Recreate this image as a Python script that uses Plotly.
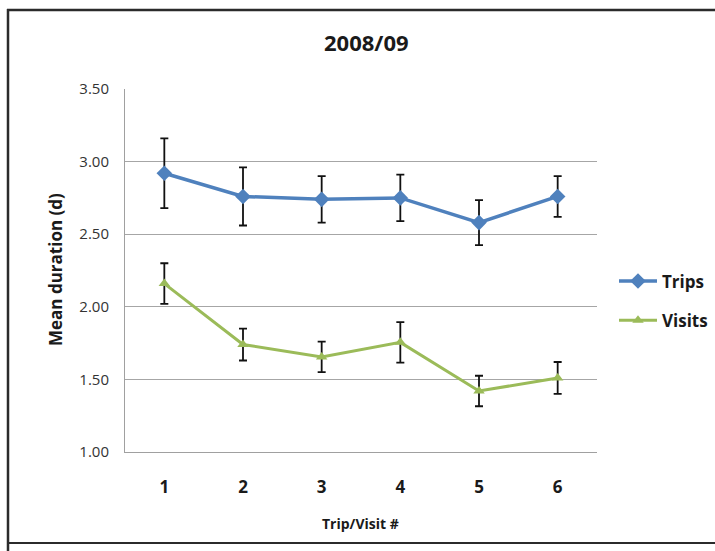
import plotly.graph_objects as go

# Trip/visit number on the x axis
trip_visit = [1, 2, 3, 4, 5, 6]
x_tick_labels = ["1", "2", "3", "4", "5", "6"]

# Mean duration in days and the half-length of each error bar
trips_mean = [2.92, 2.76, 2.74, 2.75, 2.58, 2.76]
trips_err = [0.24, 0.20, 0.16, 0.16, 0.155, 0.14]
visits_mean = [2.16, 1.74, 1.655, 1.755, 1.42, 1.51]
visits_err = [0.14, 0.11, 0.105, 0.14, 0.105, 0.11]

y_ticks = [1.0, 1.5, 2.0, 2.5, 3.0, 3.5]

W, H = 715, 551
L, R, T, B = 125, 118, 89, 99
PW, PH = W - L - R, H - T - B


def px_x(px):
    return (px - L) / PW


def px_y(py):
    return (H - B - py) / PH


FONT = "Open Sans"
TEXT = "#1a1a1a"

fig = go.Figure()

fig.add_trace(go.Scatter(
    x=trip_visit, y=trips_mean, name="Trips", mode="lines+markers",
    line=dict(color="#4F81BD", width=3.5),
    marker=dict(symbol="diamond", size=12, color="#4F81BD"),
    error_y=dict(type="data", array=trips_err, visible=True,
                 color="#111111", thickness=1.8, width=4),
    legendgroup="a",
))
fig.add_trace(go.Scatter(
    x=trip_visit, y=visits_mean, name="Visits", mode="lines+markers",
    line=dict(color="#9BBB59", width=3),
    marker=dict(symbol="triangle-up", size=10, color="#9BBB59"),
    error_y=dict(type="data", array=visits_err, visible=True,
                 color="#111111", thickness=1.8, width=4),
    legendgroup="b",
))

# Outer frame of the chart area
frame = dict(type="line", xref="paper", yref="paper",
             line=dict(color="#2b2b2b", width=2.5))
fig.add_shape(**frame, x0=px_x(7), x1=px_x(W + 5), y0=px_y(10), y1=px_y(10))
fig.add_shape(**frame, x0=px_x(8), x1=px_x(8), y0=px_y(9), y1=px_y(H + 5))
fig.add_shape(**{**frame, "line": dict(color="#2b2b2b", width=2)},
              x0=px_x(8), x1=px_x(W + 5), y0=px_y(543), y1=px_y(543))

label = dict(xref="paper", yref="paper", showarrow=False,
             xanchor="center", yanchor="middle")
fig.add_annotation(**label, text="<b>2008/09</b>", x=px_x(366), y=px_y(42),
                   font=dict(family=FONT, size=22, color=TEXT))
fig.add_annotation(**label, text="<b>Mean duration (d)</b>", x=px_x(55),
                   y=px_y(270), textangle=-90,
                   font=dict(family=FONT, size=17, color=TEXT))
fig.add_annotation(**label, text="<b>Trip/Visit #</b>", x=px_x(360),
                   y=px_y(523),
                   font=dict(family=FONT, size=14, color=TEXT))

fig.update_layout(
    width=W, height=H,
    margin=dict(l=L, r=R, t=T, b=B, autoexpand=False),
    paper_bgcolor="white", plot_bgcolor="white",
    showlegend=True,
    legend=dict(x=px_x(614), y=px_y(301), xanchor="left", yanchor="middle",
                font=dict(family=FONT, size=17, color=TEXT, weight="bold"),
                itemwidth=38, tracegroupgap=14, traceorder="grouped",
                bgcolor="rgba(0,0,0,0)"),
    xaxis=dict(range=[0.5, 6.5], tickmode="array", tickvals=trip_visit,
               ticktext=x_tick_labels, showgrid=False, zeroline=False,
               showline=True, linecolor="#a0a0a0", linewidth=1,
               ticks="outside", ticklen=20, tickcolor="rgba(0,0,0,0)",
               tickfont=dict(family=FONT, size=17, color=TEXT, weight="bold")),
    yaxis=dict(range=[1.0, 3.5], tickmode="array", tickvals=y_ticks,
               tickformat=".2f", showgrid=True, gridcolor="#a6a6a6",
               gridwidth=1, zeroline=False, showline=True,
               linecolor="#a0a0a0", linewidth=1,
               ticks="outside", ticklen=12, tickcolor="rgba(0,0,0,0)",
               tickfont=dict(family=FONT, size=15, color="#333333")),
)

fig.write_html("out.html")
